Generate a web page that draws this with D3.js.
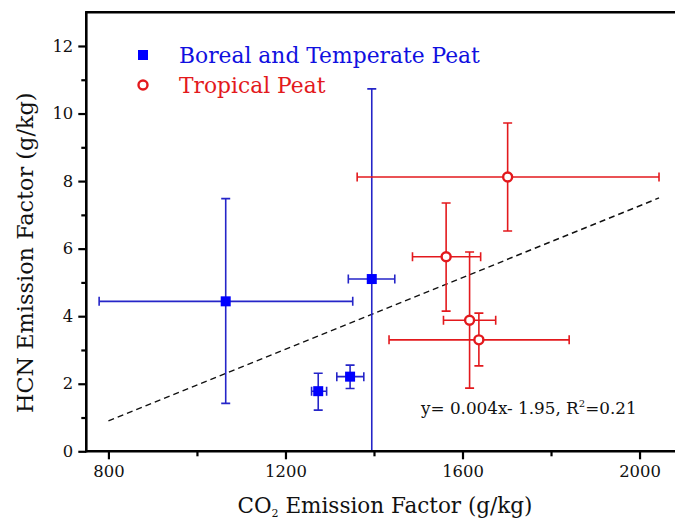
<!DOCTYPE html>
<html>
<head>
<meta charset="utf-8">
<script src="https://cdn.jsdelivr.net/npm/d3@7/dist/d3.min.js"></script>
<style>
  body { margin: 0; background: #fff; }
  text { font-family: "DejaVu Serif", serif; }
</style>
</head>
<body>
<script>
// Boreal and Temperate peat
const borealX    = [1065, 1395, 1274, 1346];
const borealY    = [4.44, 5.10, 1.78, 2.21];
const borealXLo  = [779, 1342, 1259, 1316];
const borealXHi  = [1352, 1447, 1293, 1377];
const borealYLo  = [1.42, -0.53, 1.22, 1.86];
const borealYHi  = [7.48, 10.73, 2.31, 2.55];

// Tropical peat
const tropX    = [1702, 1563, 1616, 1637];
const tropY    = [8.12, 5.76, 3.88, 3.30];
const tropXLo  = [1362, 1487, 1557, 1434];
const tropXHi  = [2044, 1641, 1675, 1841];
const tropYLo  = [6.52, 4.15, 1.87, 2.53];
const tropYHi  = [9.72, 7.35, 5.90, 4.09];

// fitted line end points
const fitX = [800, 2044];
const fitY = [0.90, 7.50];

const xMajor = [800, 1200, 1600, 2000];
const xMinor = [1000, 1400, 1800];
const yMajor = [0, 2, 4, 6, 8, 10, 12];
const yMinor = [1, 3, 5, 7, 9, 11];

const W = 675, H = 521;
const svg = d3.select("body").append("svg")
    .attr("width", W)
    .attr("height", H);

const x = d3.scaleLinear().domain([750, 2100]).range([86.3, 683.8]);
const y = d3.scaleLinear().domain([0, 13]).range([451.3, 12.2]);

// clip zone for the marks
svg.append("clipPath").attr("id", "plot")
  .append("rect")
    .attr("x", x(750)).attr("y", y(13))
    .attr("width", x(2100) - x(750))
    .attr("height", y(0) - y(13));

const blueBar = "#2525c8", blueMark = "#0000ff", red = "#e3191d";

function series(xs, ys, xlo, xhi, ylo, yhi, col, g) {
    const d = xs.map((v, i) => ({x: v, y: ys[i], xl: xlo[i], xh: xhi[i], yl: ylo[i], yh: yhi[i]}));
    const cap = 4.5;
    const e = g.selectAll(null).data(d).enter().append("g")
        .attr("stroke", col).attr("stroke-width", 1.6).attr("fill", "none");
    e.append("line").attr("x1", d => x(d.xl)).attr("x2", d => x(d.xh))
        .attr("y1", d => y(d.y)).attr("y2", d => y(d.y));
    e.append("line").attr("x1", d => x(d.x)).attr("x2", d => x(d.x))
        .attr("y1", d => y(d.yl)).attr("y2", d => y(d.yh));
    e.append("line").attr("x1", d => x(d.xl)).attr("x2", d => x(d.xl))
        .attr("y1", d => y(d.y) - cap).attr("y2", d => y(d.y) + cap);
    e.append("line").attr("x1", d => x(d.xh)).attr("x2", d => x(d.xh))
        .attr("y1", d => y(d.y) - cap).attr("y2", d => y(d.y) + cap);
    e.append("line").attr("x1", d => x(d.x) - cap).attr("x2", d => x(d.x) + cap)
        .attr("y1", d => y(d.yl)).attr("y2", d => y(d.yl));
    e.append("line").attr("x1", d => x(d.x) - cap).attr("x2", d => x(d.x) + cap)
        .attr("y1", d => y(d.yh)).attr("y2", d => y(d.yh));
    return d;
}

const marks = svg.append("g").attr("clip-path", "url(#plot)");

// dashed regression line
marks.append("path")
    .datum(fitX.map((v, i) => [v, fitY[i]]))
    .attr("fill", "none")
    .attr("stroke", "#111")
    .attr("stroke-width", 1.4)
    .attr("stroke-dasharray", "6,4")
    .attr("d", d3.line().x(d => x(d[0])).y(d => y(d[1])));

const bd = series(borealX, borealY, borealXLo, borealXHi, borealYLo, borealYHi, blueBar, marks);
const td = series(tropX, tropY, tropXLo, tropXHi, tropYLo, tropYHi, red, marks);

marks.selectAll(null).data(bd).enter().append("rect")
    .attr("x", d => x(d.x) - 5).attr("y", d => y(d.y) - 5)
    .attr("width", 10).attr("height", 10)
    .attr("fill", blueMark);

marks.selectAll(null).data(td).enter().append("circle")
    .attr("cx", d => x(d.x)).attr("cy", d => y(d.y)).attr("r", 4.5)
    .attr("fill", "#fff").attr("stroke", red).attr("stroke-width", 2.4);

// axes
const xAx = svg.append("g").attr("transform", `translate(0,${y(0)})`);
xAx.call(d3.axisBottom(x).tickValues(xMajor).tickSize(8).tickSizeOuter(0).tickPadding(6)
    .tickFormat(d3.format("d")));
xAx.append("g").call(d3.axisBottom(x).tickValues(xMinor).tickSize(5).tickFormat(""));
xAx.selectAll("path.domain").remove();
xAx.append("line").attr("x1", x(750) - 1).attr("x2", W).attr("stroke", "#000").attr("stroke-width", 2.6);

const yAx = svg.append("g").attr("transform", `translate(${x(750)},0)`);
yAx.call(d3.axisLeft(y).tickValues(yMajor).tickSize(8).tickSizeOuter(0).tickPadding(5));
yAx.append("g").call(d3.axisLeft(y).tickValues(yMinor).tickSize(5).tickFormat(""));
yAx.selectAll("path.domain").remove();
yAx.append("line").attr("y1", y(13) - 1).attr("y2", y(0) + 1).attr("stroke", "#000").attr("stroke-width", 2.6);

svg.selectAll(".tick line").attr("stroke", "#000").attr("stroke-width", 2.2);
svg.selectAll(".tick text").attr("font-size", 16.4).attr("fill", "#111")
    .attr("font-family", "DejaVu Serif");

// top frame
svg.append("line").attr("x1", x(750) - 1).attr("x2", W)
    .attr("y1", y(13)).attr("y2", y(13))
    .attr("stroke", "#000").attr("stroke-width", 2.6);

// axis titles
svg.append("text")
    .attr("transform", `translate(33,${(y(0) + y(13)) / 2 + 21}) rotate(-90)`)
    .attr("text-anchor", "middle")
    .attr("font-size", 22.4)
    .attr("fill", "#111")
    .text("HCN Emission Factor (g/kg)");

const xt = svg.append("text")
    .attr("x", 385).attr("y", 513)
    .attr("text-anchor", "middle")
    .attr("font-size", 21.5)
    .attr("fill", "#111");
xt.append("tspan").text("CO");
xt.append("tspan").attr("font-size", 11).attr("dy", 4).text("2");
xt.append("tspan").attr("dy", -4).text(" Emission Factor (g/kg)");

// equation
const eq = svg.append("text")
    .attr("x", 421).attr("y", 414)
    .attr("font-size", 16.8)
    .attr("fill", "#111");
eq.append("tspan").text("y= 0.004x- 1.95, R");
eq.append("tspan").attr("font-size", 10).attr("dy", -7).text("2");
eq.append("tspan").attr("dy", 7).text("=0.21");

// legend
const lg = svg.append("g");
lg.append("rect").attr("x", 138).attr("y", 50).attr("width", 10).attr("height", 10).attr("fill", blueMark);
lg.append("text").attr("x", 179).attr("y", 63).attr("font-size", 21.8).attr("fill", "#1010e0")
    .text("Boreal and Temperate Peat");
lg.append("circle").attr("cx", 143).attr("cy", 85).attr("r", 4.5)
    .attr("fill", "#fff").attr("stroke", red).attr("stroke-width", 2.4);
lg.append("text").attr("x", 179).attr("y", 93).attr("font-size", 21.8).attr("fill", red)
    .text("Tropical Peat");
</script>
</body>
</html>
